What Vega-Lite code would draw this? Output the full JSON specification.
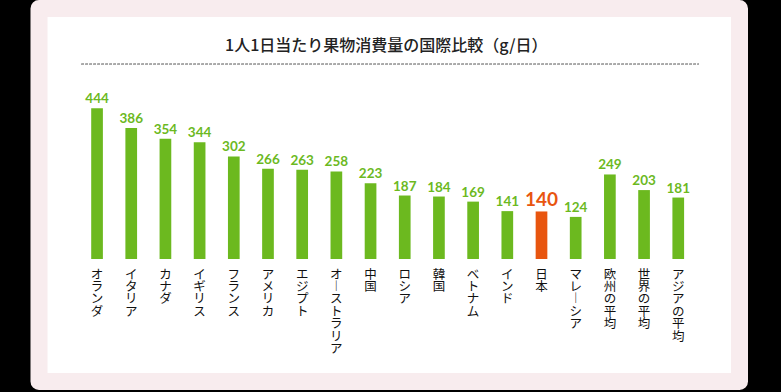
{
  "$schema": "https://vega.github.io/schema/vega-lite/v6.json",
  "autosize": {"type": "none"},
  "width": 700.5,
  "height": 373,
  "padding": {"left": 39, "top": 8.5, "right": 41.5, "bottom": 10.5},
  "background": "#000000",
  "config": {
    "view": {"fill": "#ffffff", "stroke": "#f8ecee", "strokeWidth": 17, "cornerRadius": 0, "strokeJoin": "round"}
  },
  "title": {
    "text": "1人1日当たり果物消費量の国際比較（g/日）",
    "anchor": "middle",
    "frame": "group",
    "orient": "top",
    "offset": -53,
    "dx": -3,
    "baseline": "middle",
    "font": "Noto Sans CJK JP",
    "fontSize": 16,
    "fontWeight": 500,
    "color": "#222222"
  },
  "data": {
    "values": [
      {"country": "オランダ", "value": 444},
      {"country": "イタリア", "value": 386},
      {"country": "カナダ", "value": 354},
      {"country": "イギリス", "value": 344},
      {"country": "フランス", "value": 302},
      {"country": "アメリカ", "value": 266},
      {"country": "エジプト", "value": 263},
      {"country": "オーストラリア", "value": 258},
      {"country": "中国", "value": 223},
      {"country": "ロシア", "value": 187},
      {"country": "韓国", "value": 184},
      {"country": "ベトナム", "value": 169},
      {"country": "インド", "value": 141},
      {"country": "日本", "value": 140},
      {"country": "マレーシア", "value": 124},
      {"country": "欧州の平均", "value": 249},
      {"country": "世界の平均", "value": 203},
      {"country": "アジアの平均", "value": 181}
    ]
  },
  "layer": [
    {
      "mark": {"type": "rule", "strokeDash": [2, 2], "strokeWidth": 1, "color": "#aaaaaa"},
      "encoding": {
        "x": {"datum": 0.061, "type": "quantitative", "scale": {"domain": [0, 1], "nice": false}, "axis": null},
        "x2": {"datum": 0.942},
        "y": {"datum": 573.7, "type": "quantitative", "scale": {"domain": [-361, 738], "nice": false, "zero": false}, "axis": null}
      }
    },
    {
      "encoding": {
        "x": {
          "field": "country",
          "type": "nominal",
          "sort": null,
          "scale": {"paddingInner": 0.658, "paddingOuter": 0, "range": [52.2, 645.1]},
          "axis": {
            "orient": "bottom",
            "offset": -122.5,
            "domain": false,
            "ticks": false,
            "grid": false,
            "title": null,
            "labelAngle": 0,
            "labelPadding": 9,
            "labelBaseline": "top",
            "labelAlign": "center",
            "labelFont": "Noto Sans CJK JP",
            "labelFontSize": 12.5,
            "labelLineHeight": 12.4,
            "labelColor": "#111111",
            "labelOverlap": false,
            "labelFlush": false,
            "labelBound": false,
            "labelExpr": "split(replace(datum.label, regexp('\\u30FC', 'g'), '\\uFE31'), '')"
          }
        },
        "y": {
          "field": "value",
          "type": "quantitative",
          "scale": {"domain": [-361, 738], "nice": false, "zero": false},
          "axis": null
        },
        "color": {
          "condition": {"test": "datum.country === '日本'", "value": "#e8550f"},
          "value": "#6cb91f"
        }
      },
      "layer": [
        {"mark": {"type": "bar"}},
        {
          "mark": {"type": "text", "baseline": "alphabetic", "dy": -5, "font": "Lato", "fontWeight": "bold"},
          "encoding": {
            "text": {"field": "value", "type": "quantitative"},
            "size": {
              "condition": {"test": "datum.country === '日本'", "value": 19},
              "value": 13.5
            }
          }
        }
      ]
    }
  ],
  "resolve": {"scale": {"x": "independent"}}
}
